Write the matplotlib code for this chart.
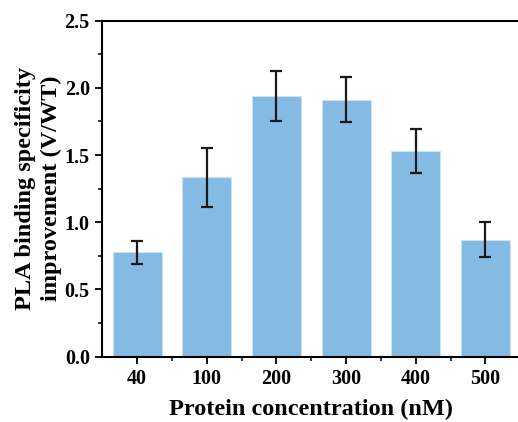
import matplotlib.pyplot as plt
from matplotlib.ticker import MultipleLocator

# values
concentrations = ["40", "100", "200", "300", "400", "500"]
improvement = [0.775, 1.334, 1.941, 1.911, 1.532, 0.871]
errors = [0.088, 0.222, 0.188, 0.168, 0.163, 0.130]

plt.rcParams['font.family'] = ['Liberation Serif', 'DejaVu Serif']
plt.rcParams['font.weight'] = 'bold'

fig = plt.figure(figsize=(5.18, 4.22), dpi=100)
ax = fig.add_axes([0.1975, 0.155, 0.807, 0.796])

x = list(range(len(concentrations)))
ax.bar(x, improvement, width=0.7, color='#85bbe3', edgecolor='#c9e2f5', linewidth=0.8,
       yerr=errors, capsize=4,
       error_kw=dict(ecolor='#1a1a1a', elinewidth=1.6, capthick=1.6))

ax.set_xlim(-0.5, 5.5)
ax.set_ylim(0, 2.5)
ax.set_xticks(x)
ax.set_xticklabels(concentrations)
ax.set_xticks([i + 0.5 for i in x[:-1]], minor=True)
ax.yaxis.set_major_locator(MultipleLocator(0.5))
ax.yaxis.set_minor_locator(MultipleLocator(0.25))
ax.yaxis.set_major_formatter(plt.FuncFormatter(lambda v, p: f"{v:.1f}"))

ax.tick_params(which='major', direction='out', length=5, width=1.3, labelsize=14.5, pad=4)
ax.tick_params(which='minor', direction='out', length=3, width=1.1)
for lab in ax.get_xticklabels() + ax.get_yticklabels():
    lab.set_fontweight('bold')

for side in ['left', 'bottom', 'top']:
    ax.spines[side].set_linewidth(1.5)
ax.spines['right'].set_visible(False)

ax.set_xlabel("Protein concentration (nM)", fontsize=17.5, fontweight='bold', labelpad=7)
ax.set_ylabel("PLA binding specificity\nimprovement (V/WT)", fontsize=17.5,
              fontweight='bold', labelpad=2, linespacing=1.3)

fig.savefig("out.png", dpi=100)
